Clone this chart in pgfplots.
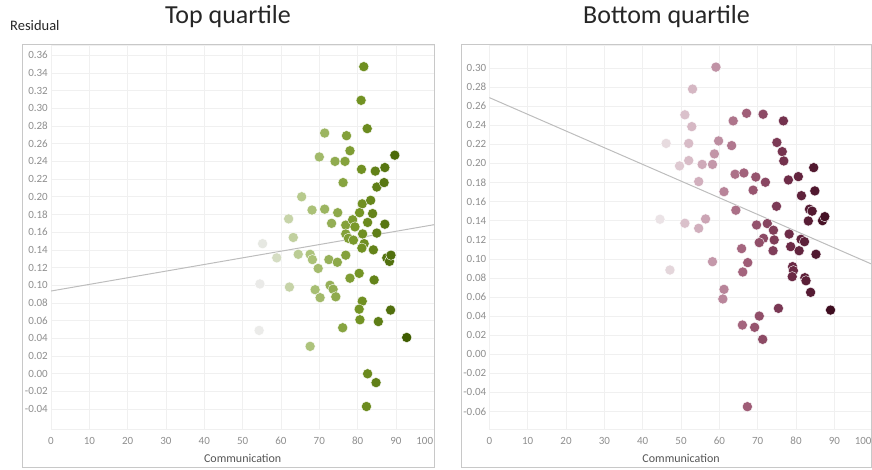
\documentclass[border=0pt]{standalone}
\usepackage{fontspec}
\setmainfont{Carlito}
\usepackage{pgfplots}
\pgfplotsset{compat=1.18}
\definecolor{tickc}{HTML}{8E8E8E}
\definecolor{labc}{HTML}{555555}
\definecolor{gridc}{HTML}{F0F0F0}
\definecolor{framec}{HTML}{C8C8C8}
\definecolor{trendc}{HTML}{BDBDBD}
\definecolor{titlec}{HTML}{262626}
\pgfplotsset{
  colormap={greenmap}{rgb255=(236,236,236) rgb255=(176,197,128) rgb255=(118,150,38) rgb255=(62,92,0)},
  colormap={maroonmap}{rgb255=(236,230,232) rgb255=(207,170,185) rgb255=(160,94,120) rgb255=(108,42,70) rgb255=(58,10,28)},
  panel/.style={scale only axis, width=383.3pt, height=384pt, anchor=south west,
    xmin=0, xmax=100, xtick={0,10,...,90}, extra x ticks={100},
    extra x tick style={xticklabel style={anchor=north east, xshift=-1pt}},
    grid=major, major grid style={gridc, line width=0.6pt},
    axis line style={draw=gridc}, major tick length=0pt,
    /pgf/number format/assume math mode=true,
    ticklabel style={font=\fontsize{11}{13}\selectfont, text=tickc},
    xticklabel style={anchor=north, inner sep=0pt, yshift=-8pt},
    yticklabel style={anchor=east, inner sep=0pt, xshift=-3pt,
      /pgf/number format/fixed, /pgf/number format/fixed zerofill, /pgf/number format/precision=2},
    xlabel={Communication},
    x label style={font=\fontsize{12}{14}\selectfont, text=labc, at={(axis description cs:0.5,0)}, anchor=center, yshift=-29pt},
  },
  dots/.style={scatter, only marks, mark=*, mark size=5.1pt, point meta=x,
    scatter/use mapped color={draw=white, fill=mapped color}, line width=0.4pt},
}
\begin{document}
\begin{tikzpicture}[x=1pt,y=1pt]
\useasboundingbox (0,0) rectangle (872,470);
\begin{axis}[panel, at={(51pt,41pt)}, ymin=-0.0624, ymax=0.3715,
  ytick={-0.04,-0.02,0,0.02,0.04,0.06,0.08,0.10,0.12,0.14,0.16,0.18,0.20,0.22,0.24,0.26,0.28,0.30,0.32,0.34,0.36},
  colormap name=greenmap, point meta min=54, point meta max=93]
\addplot[trendc, line width=1pt] coordinates {(0,0.0935) (100,0.1685)};
\addplot[dots] table {
x y
81.6 0.347
80.9 0.309
82.5 0.277
71.4 0.272
77.1 0.269
78.0 0.252
70.0 0.245
74.1 0.240
76.7 0.240
89.7 0.247
81.0 0.231
84.6 0.229
87.1 0.233
76.2 0.216
85.0 0.211
86.9 0.216
65.4 0.200
62.0 0.175
68.1 0.185
71.4 0.186
74.8 0.182
81.2 0.192
83.4 0.196
80.5 0.182
83.9 0.181
73.2 0.170
87.1 0.169
82.6 0.171
76.9 0.168
78.7 0.174
79.3 0.166
85.0 0.159
81.3 0.158
76.9 0.158
63.2 0.154
55.2 0.147
77.6 0.153
78.9 0.151
81.7 0.147
81.1 0.142
84.1 0.140
58.9 0.131
64.5 0.135
67.6 0.135
68.2 0.129
69.7 0.119
72.5 0.129
74.7 0.126
76.9 0.134
87.6 0.131
88.3 0.127
88.7 0.134
78.0 0.108
80.4 0.1135
84.3 0.106
54.5 0.1015
62.2 0.098
68.9 0.095
70.2 0.086
72.8 0.100
73.6 0.0955
74.3 0.087
81.2 0.082
80.4 0.073
80.6 0.061
85.4 0.059
88.6 0.072
76.1 0.052
92.8 0.041
54.3 0.049
67.6 0.031
82.6 0.000
84.8 -0.010
82.3 -0.037
};
\end{axis}
\begin{axis}[panel, at={(489.4pt,41pt)}, ymin=-0.0784, ymax=0.3242,
  ytick={-0.06,-0.04,-0.02,0,0.02,0.04,0.06,0.08,0.10,0.12,0.14,0.16,0.18,0.20,0.22,0.24,0.26,0.28,0.30},
  colormap name=maroonmap, point meta min=44, point meta max=90]
\addplot[trendc, line width=1pt] coordinates {(0,0.269) (100,0.094)};
\addplot[dots] table {
x y
59.1 0.301
53.0 0.278
51.0 0.251
52.8 0.2386
46.1 0.221
52.0 0.221
59.8 0.2236
63.6 0.2446
67.1 0.2526
71.4 0.2516
76.7 0.2446
63.2 0.2187
58.7 0.210
49.6 0.1974
52.0 0.203
55.5 0.199
58.2 0.199
75.0 0.222
76.4 0.2124
76.8 0.2026
84.6 0.1956
64.1 0.1887
66.4 0.190
69.5 0.1858
72.0 0.1803
78.0 0.1827
80.6 0.1862
54.6 0.181
68.8 0.172
61.2 0.1704
81.4 0.1662
84.9 0.1712
74.9 0.1551
83.5 0.152
84.2 0.150
64.3 0.151
44.5 0.1415
51.0 0.1373
56.4 0.1418
54.6 0.132
83.2 0.1397
86.9 0.140
87.5 0.1442
69.7 0.1355
72.5 0.137
74.1 0.130
78.2 0.126
81.3 0.1205
82.2 0.118
71.5 0.1215
70.4 0.117
74.3 0.1198
74.0 0.1085
78.6 0.1128
80.8 0.1085
85.2 0.1048
65.8 0.1107
47.1 0.0883
58.2 0.097
67.4 0.096
66.1 0.0862
79.1 0.0918
79.3 0.0876
79.0 0.0813
82.3 0.0802
82.6 0.077
83.8 0.0649
61.2 0.068
60.9 0.0579
75.4 0.0481
89.0 0.0463
70.4 0.040
66.0 0.0306
69.2 0.0282
71.3 0.0156
67.3 -0.055
};
\end{axis}
\draw[framec, line width=1pt] (22,2) rectangle (434,425);
\draw[framec, line width=1pt] (461,2) rectangle (871.5,425);
\node[font=\fontsize{26}{30}\selectfont, text=titlec] at (228,453) {Top quartile};
\node[font=\fontsize{26}{30}\selectfont, text=titlec] at (666.5,453) {Bottom quartile};
\node[font=\fontsize{14.5}{17}\selectfont, text=titlec, anchor=west, inner sep=0pt] at (10,444) {Residual};
\end{tikzpicture}
\end{document}
